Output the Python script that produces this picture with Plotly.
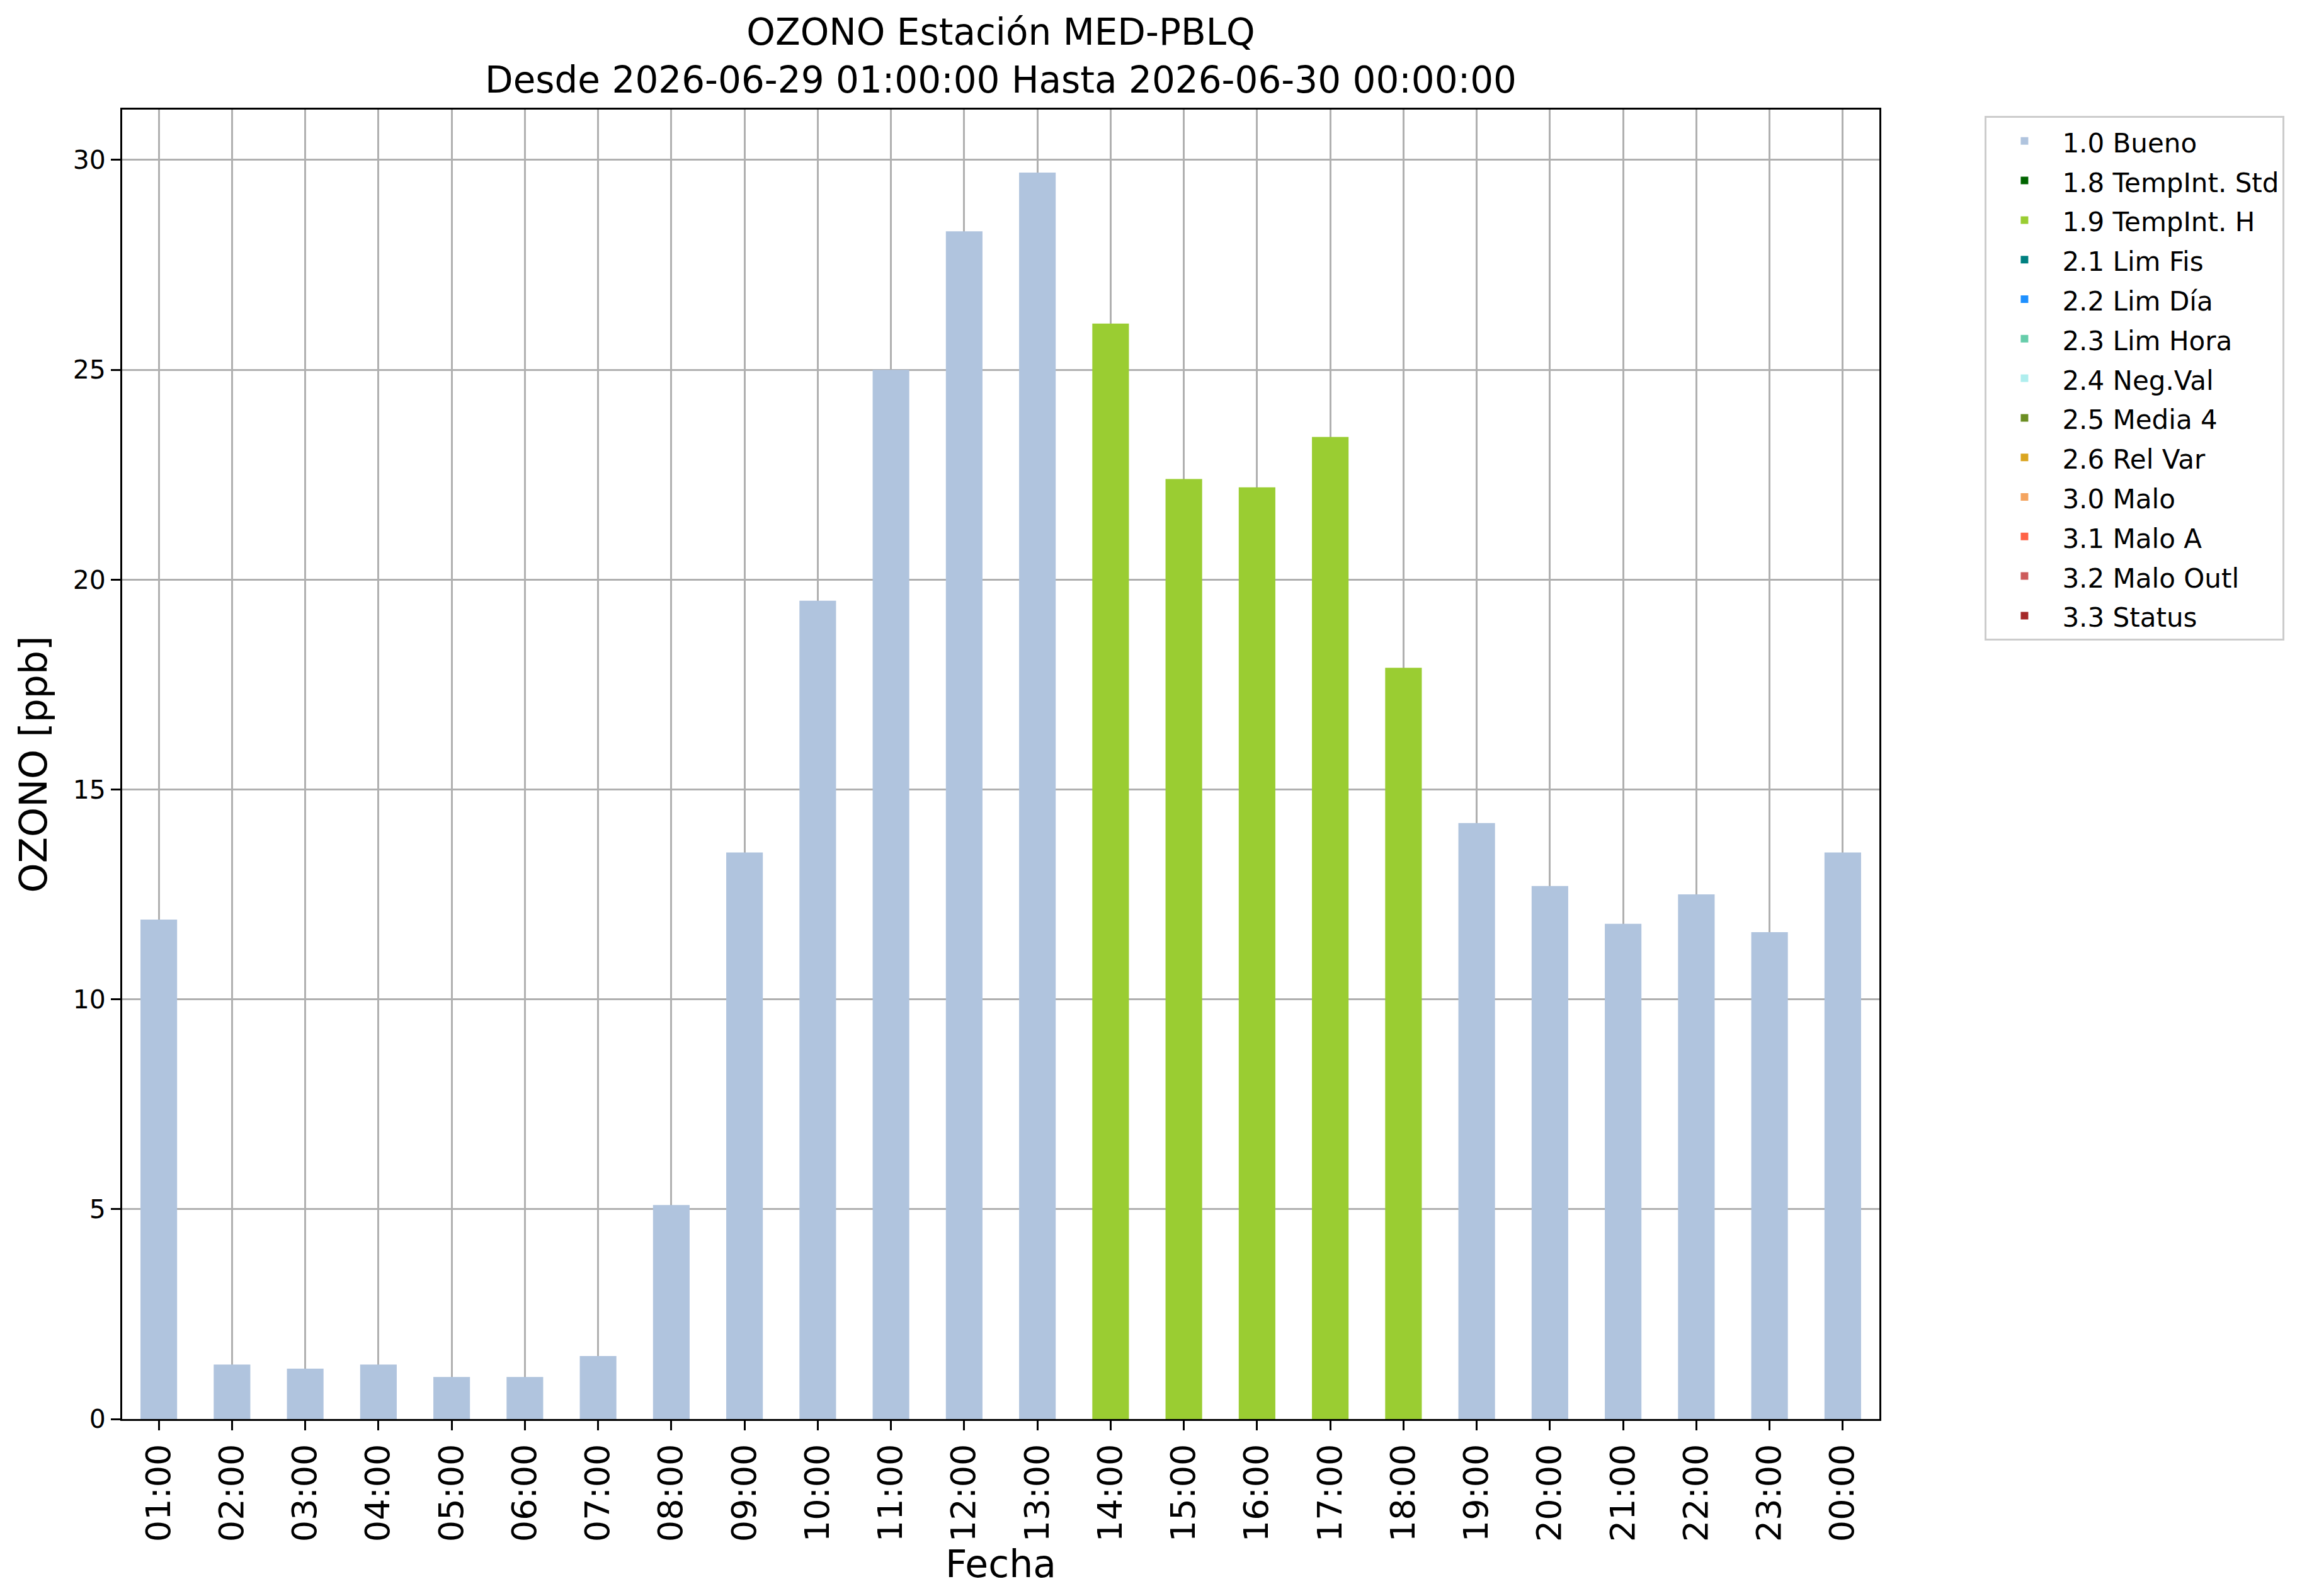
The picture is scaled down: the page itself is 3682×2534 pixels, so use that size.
import plotly.graph_objects as go

horas = ['01:00', '02:00', '03:00', '04:00', '05:00', '06:00', '07:00', '08:00',
         '09:00', '10:00', '11:00', '12:00', '13:00', '14:00', '15:00', '16:00',
         '17:00', '18:00', '19:00', '20:00', '21:00', '22:00', '23:00', '00:00']
ozono = [11.9, 1.3, 1.2, 1.3, 1.0, 1.0, 1.5, 5.1, 13.5, 19.5, 25.0, 28.3,
         29.7, 26.1, 22.4, 22.2, 23.4, 17.9, 14.2, 12.7, 11.8, 12.5, 11.6, 13.5]
banderas = ['1.0', '1.0', '1.0', '1.0', '1.0', '1.0', '1.0', '1.0', '1.0', '1.0',
            '1.0', '1.0', '1.0', '1.9', '1.9', '1.9', '1.9', '1.9', '1.0', '1.0',
            '1.0', '1.0', '1.0', '1.0']

categorias = ['1.0 Bueno', '1.8 TempInt. Std', '1.9 TempInt. H', '2.1 Lim Fis',
              '2.2 Lim Día', '2.3 Lim Hora', '2.4 Neg.Val', '2.5 Media 4',
              '2.6 Rel Var', '3.0 Malo', '3.1 Malo A', '3.2 Malo Outl', '3.3 Status']
colores = ['#b0c4de', '#006400', '#9acd32', '#008080', '#1e90ff', '#66cdaa',
           '#afeeee', '#6b8e23', '#daa520', '#f4a460', '#ff6347', '#cd5c5c',
           '#a52a2a']

FONT = 'DejaVu Sans'

fig = go.Figure()
for cat, col in zip(categorias, colores):
    codigo = cat.split(' ')[0]
    ys = [v if b == codigo else None for v, b in zip(ozono, banderas)]
    # legend line height follows legend font size; the span keeps the text smaller
    fig.add_trace(go.Bar(
        x=horas, y=ys, name=f'<span style="font-size:42px">{cat}</span>',
        width=0.5,
        marker=dict(color=col, line=dict(width=0)),
        showlegend=True,
    ))

fig.update_layout(
    width=3682,
    height=2534,
    barmode='overlay',
    plot_bgcolor='white',
    paper_bgcolor='white',
    margin=dict(l=186, r=706, t=166, b=289),
    font=dict(family=FONT, color='black'),
    title=dict(
        text='OZONO Estación MED-PBLQ<br>Desde 2026-06-29 01:00:00 Hasta 2026-06-30 00:00:00',
        x=0.5, xref='paper', xanchor='center',
        y=0.975, yref='container', yanchor='top',
        font=dict(family=FONT, size=58),
    ),
    legend=dict(
        x=1.060, y=0.995, xanchor='left', yanchor='top',
        bordercolor='#cccccc', borderwidth=3,
        font=dict(family=FONT, size=46),
        itemwidth=110,
        tracegroupgap=0,
    ),
)
fig.update_xaxes(
    type='category', range=[-0.5, 23.5],
    tickangle=-90, tickfont=dict(size=54),
    title=dict(text='Fecha', font=dict(size=60), standoff=2),
    showgrid=True, gridcolor='#b0b0b0', gridwidth=3,
    showline=True, linecolor='black', linewidth=3, mirror=True,
    ticks='outside', ticklen=15, tickwidth=3, tickcolor='black',
    layer='above traces',
)
fig.update_yaxes(
    range=[0, 31.2], dtick=5,
    tickfont=dict(size=41),
    title=dict(text='OZONO [ppb]', font=dict(size=60), standoff=22),
    showgrid=True, gridcolor='#b0b0b0', gridwidth=3,
    showline=True, linecolor='black', linewidth=3, mirror=True,
    ticks='outside', ticklen=15, tickwidth=3, tickcolor='black',
    zeroline=False,
    layer='above traces',
)

fig.write_html('out.html')
